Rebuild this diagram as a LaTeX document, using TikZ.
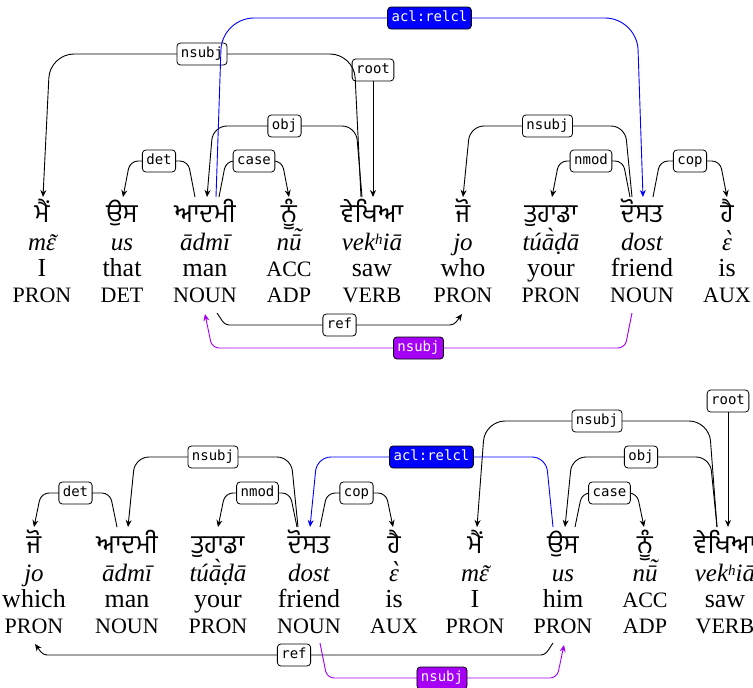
\documentclass[tikz,border=0pt]{standalone}
\usepackage{fontspec}
\setmainfont{Liberation Serif}
\newfontfamily\gurfont[Script=Gurmukhi]{Hind Jalandhar}
\newfontfamily\lblfont{DejaVu Sans Mono}
\newfontfamily\djserif{DejaVu Serif}
\usetikzlibrary{calc,arrows.meta}
\definecolor{relblue}{RGB}{0,0,255}
\definecolor{refpurple}{RGB}{165,0,245}
\newcommand\accsz{\fontsize{22}{22}\selectfont}
% #1 base letter, #2 accent glyph, #3 horizontal shift, #4 raise
\newcommand\accover[4]{{\ooalign{#1\cr\hidewidth\kern#3\raisebox{#4}{#2}\hidewidth\cr}}}
\newcommand\epstilde{\accover{ɛ}{˜}{3pt}{-1pt}}
\newcommand\utilde{\accover{ū}{˜}{4pt}{5pt}}
\newcommand\epsgrave{\accover{ɛ}{{\djserif ˋ}}{3pt}{0pt}}
\newcommand\kh{k\raisebox{6pt}{\fontsize{15}{15}\selectfont h}}
\tikzset{
  gurtext/.style={anchor=base, inner sep=0pt, font=\gurfont\fontsize{26}{26}\selectfont},
  trtext/.style={anchor=base, inner sep=0pt, font=\fontsize{25}{25}\selectfont\itshape},
  gltext/.style={anchor=base, inner sep=0pt, font=\fontsize{26}{26}\selectfont},
  postext/.style={anchor=base, inner sep=0pt, font=\fontsize{22}{22}\selectfont},
  deplabel/.style={draw=black, fill=white, rounded corners=3.5pt, line width=0.8pt,
    font=\lblfont\fontsize{14}{14}\selectfont, inner xsep=4pt, inner ysep=0pt,
    text height=10.5pt, text depth=3.5pt, minimum height=22pt},
  bluelabel/.style={deplabel, fill=relblue, text=white},
  purplelabel/.style={deplabel, fill=refpurple, text=white},
  deparc/.style={line width=0.9pt, draw=black, -{Stealth[length=7pt,width=6pt]}},
  bluearc/.style={deparc, draw=relblue},
  purplearc/.style={deparc, draw=refpurple},
}
% #1 arc style, #2 label style, #3 head point, #4 dependent point,
% #5 level y, #6 head slant, #7 corner radius, #8 label name, #9 label text
\newcommand\darc[9]{%
  \coordinate (hd) at (#3);
  \coordinate (dp) at (#4);
  \coordinate (lvl) at (0,#5);
  \draw[#1, rounded corners=#7pt] (hd) -- ($(hd|-lvl)+(#6,0)$)
    -- node[#2] (#8) {#9} ($(dp|-lvl)+({-1*(#6)},0)$) -- (dp);
}
\begin{document}
\begin{tikzpicture}[x=1pt,y=-1pt]
\clip (0,0) rectangle (753,688);
\fill[white] (0,0) rectangle (753,688);
% ---- sentence A
\foreach \x/\g/\t/\e/\p [count=\i] in {
  42/ਮੈਂ/{m\epstilde}/I/PRON,
  122/ਉਸ/us/that/DET,
  205/ਆਦਮੀ/ādmī/man/NOUN,
  289/ਨੂੰ/{n\utilde}/{\accsz ACC}/ADP,
  372/ਵੇਖਿਆ/{ve\kh iā}/saw/VERB,
  463/ਜੋ/jo/who/PRON,
  551/ਤੁਹਾਡਾ/túā̀ḍā/your/PRON,
  642/ਦੋਸਤ/dost/friend/NOUN,
  727/ਹੈ/{\epsgrave}/is/AUX}{
  \node[gurtext] (gA\i) at (\x,222) {\g};
  \node[trtext]  (tA\i) at (\x,250) {\t};
  \node[gltext]  (eA\i) at (\x,276) {\e};
  \node[postext] (pA\i) at (\x,302) {\p};
}
% ---- sentence B
\foreach \x/\g/\t/\e/\p [count=\i] in {
  34/ਜੋ/jo/which/PRON,
  127/ਆਦਮੀ/ādmī/man/NOUN,
  218/ਤੁਹਾਡਾ/túā̀ḍā/your/PRON,
  309/ਦੋਸਤ/dost/friend/NOUN,
  394/ਹੈ/{\epsgrave}/is/AUX,
  475/ਮੈਂ/{m\epstilde}/I/PRON,
  563/ਉਸ/us/him/PRON,
  645/ਨੂੰ/{n\utilde}/{\accsz ACC}/ADP,
  725/ਵੇਖਿਆ/{ve\kh iā}/saw/VERB}{
  \node[gurtext] (gB\i) at (\x,553) {\g};
  \node[trtext]  (tB\i) at (\x,581) {\t};
  \node[gltext]  (eB\i) at (\x,607) {\e};
  \node[postext] (pB\i) at (\x,633) {\p};
}
% ---- arcs of sentence A
\node[deplabel] (rootA) at ($(gA5.base)+(1,-152)$) {root};
\draw[deparc] (rootA.south) -- ($(gA5.base)+(1,-25)$);
\darc{deparc}{deplabel}{$(gA3.base)+(-10,-25)$}{$(gA2.base)+(1,-25)$}{161}{-7}{8}{detA}{det}
\darc{deparc}{deplabel}{$(gA3.base)+(14,-25)$}{$(gA4.base)+(0,-25)$}{161}{7}{8}{caseA}{case}
\darc{deparc}{deplabel}{$(gA5.base)+(-10,-25)$}{$(gA3.base)+(2,-25)$}{126}{-6}{14}{objA}{obj}
\darc{deparc}{deplabel}{$(gA5.base)+(-11,-25)$}{$(gA1.base)+(1,-25)$}{54}{-7}{24}{nsubjA}{nsubj}
\darc{bluearc}{bluelabel}{$(gA3.base)+(11,-25)$}{$(gA8.base)+(1,-25)$}{18}{6}{32}{aclA}{acl:relcl}
\darc{deparc}{deplabel}{$(gA8.base)+(-10,-25)$}{$(gA6.base)+(0,-25)$}{126}{-7}{14}{nsubjAb}{nsubj}
\darc{deparc}{deplabel}{$(gA8.base)+(-12,-25)$}{$(gA7.base)+(1,-25)$}{161}{-7}{8}{nmodA}{nmod}
\darc{deparc}{deplabel}{$(gA8.base)+(11,-25)$}{$(gA9.base)+(0,-25)$}{161}{7}{8}{copA}{cop}
\darc{deparc}{deplabel}{$(pA3.base)+(12,11)$}{$(pA6.base)+(-1,12)$}{325}{8}{4}{refA}{ref}
\darc{purplearc}{purplelabel}{$(pA8.base)+(-10,11)$}{$(pA3.base)+(0,12)$}{348}{-7}{7}{nsubjAc}{nsubj}
% ---- arcs of sentence B
\darc{deparc}{deplabel}{$(gB2.base)+(-10,-26)$}{$(gB1.base)+(0,-26)$}{493}{-7}{8}{detB}{det}
\darc{deparc}{deplabel}{$(gB4.base)+(-12,-26)$}{$(gB3.base)+(0,-26)$}{493}{-7}{8}{nmodB}{nmod}
\darc{deparc}{deplabel}{$(gB4.base)+(11,-26)$}{$(gB5.base)+(-1,-26)$}{493}{7}{8}{copB}{cop}
\darc{deparc}{deplabel}{$(gB4.base)+(-11,-26)$}{$(gB2.base)+(1,-26)$}{457}{-7}{14}{nsubjB}{nsubj}
\darc{deparc}{deplabel}{$(gB7.base)+(12,-26)$}{$(gB8.base)+(-1,-26)$}{493}{7}{8}{caseB}{case}
\darc{deparc}{deplabel}{$(gB9.base)+(-8,-26)$}{$(gB7.base)+(2,-26)$}{457}{-7}{14}{objB}{obj}
\node[deplabel] (rootB) at ($(gB9.base)+(3,-152)$) {root};
\draw[deparc] (rootB.south) -- ($(gB9.base)+(3,-26)$);
\darc{deparc}{deplabel}{$(gB9.base)+(-8,-26)$}{$(gB6.base)+(2,-26)$}{421}{-8}{20}{nsubjBb}{nsubj}
\darc{bluearc}{bluelabel}{$(gB7.base)+(-10,-26)$}{$(gB4.base)+(1,-26)$}{457}{-7}{14}{aclB}{acl:relcl}
\darc{deparc}{deplabel}{$(pB7.base)+(-10,10)$}{$(pB1.base)+(1,11)$}{655}{-8}{4}{refB}{ref}
\darc{purplearc}{purplelabel}{$(pB4.base)+(11,10)$}{$(pB7.base)+(1,12)$}{678}{7}{7}{nsubjBc}{nsubj}
\end{tikzpicture}
\end{document}
